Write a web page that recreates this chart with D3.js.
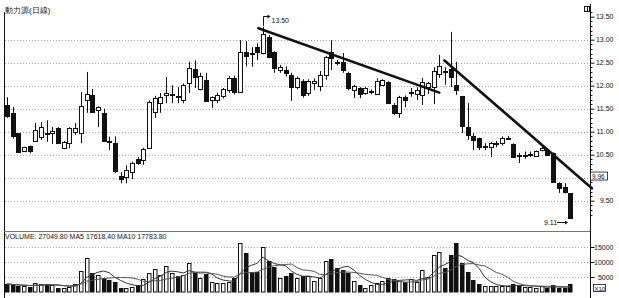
<!DOCTYPE html>
<html><head><meta charset="utf-8">
<script src="https://cdn.jsdelivr.net/npm/d3@7"></script>
<style>body{margin:0;background:#fff}svg{display:block}text{font-family:"Liberation Sans",Arial,sans-serif;fill:#111}</style>
</head><body><svg id="c" width="619" height="298"></svg>
<script>
const title = "動力源(日線)";
const volumeLabel = "VOLUME: 27049.80 MA5 17618.40 MA10 17783.80";
const opens = [11.58,11.41,10.97,10.58,10.69,10.80,10.88,10.98,10.97,11.08,10.65,10.75,11.00,10.97,11.69,11.80,11.47,11.41,10.80,10.75,10.04,10.01,10.12,10.40,10.39,10.65,11.43,11.62,11.80,11.82,11.78,11.69,12.05,12.37,11.93,12.12,11.69,11.69,11.77,11.91,12.16,11.86,12.74,12.71,12.84,12.71,13.06,12.73,12.34,12.34,12.23,11.97,12.10,11.84,12.06,11.99,12.23,12.73,12.52,12.52,12.28,11.91,11.95,11.84,11.88,11.82,12.02,12.08,11.58,11.41,11.76,11.86,11.82,11.80,11.98,11.97,12.26,12.31,12.37,12.02,11.78,11.10,10.90,10.86,10.68,10.67,10.75,10.75,10.86,10.73,10.50,10.49,10.51,10.48,10.60,10.60,10.53,9.88,9.80,9.66];
const highs = [11.75,11.54,10.97,10.67,10.70,11.19,11.21,11.25,11.10,11.10,10.80,11.10,11.19,11.86,12.30,11.93,11.55,11.50,10.89,10.90,10.12,10.27,10.35,10.45,10.65,11.68,11.78,11.84,12.19,12.01,11.97,12.05,12.52,12.55,12.28,12.28,11.77,11.85,11.95,12.21,12.22,12.99,12.97,12.84,12.92,13.28,13.10,12.75,12.45,12.42,12.28,12.20,12.14,12.14,12.16,12.32,12.65,12.99,12.56,12.71,12.30,12.02,11.97,11.97,11.92,12.16,12.14,12.10,11.62,11.78,11.79,11.95,11.97,12.17,12.08,12.40,12.67,12.40,13.17,12.52,11.78,11.62,10.97,10.87,10.75,10.78,10.80,10.90,10.91,10.75,10.54,10.57,10.57,10.59,10.69,10.64,10.55,9.90,9.88,9.66];
const lows = [11.30,10.85,10.54,10.58,10.53,10.80,10.82,10.78,10.73,10.74,10.62,10.64,10.93,10.75,11.41,11.41,11.10,10.78,10.60,10.10,9.88,9.88,9.97,10.28,10.28,10.63,11.30,11.41,11.62,11.62,11.62,11.62,11.84,11.95,11.90,11.65,11.52,11.62,11.72,11.84,11.81,11.84,12.42,12.41,12.56,12.68,12.60,12.28,12.28,12.20,11.67,11.92,11.74,11.78,11.91,11.88,12.13,12.34,12.44,12.28,11.90,11.73,11.73,11.80,11.81,11.80,12.00,11.60,11.36,11.30,11.53,11.76,11.69,11.58,11.82,11.60,12.17,12.02,11.97,11.80,10.97,10.82,10.60,10.60,10.60,10.45,10.66,10.70,10.82,10.43,10.32,10.41,10.45,10.46,10.57,10.48,9.89,9.67,9.66,9.11];
const closes = [11.34,10.91,10.56,10.67,10.58,11.04,11.10,10.97,11.02,10.75,10.78,11.08,11.07,11.56,11.82,11.43,11.53,10.80,10.79,10.14,9.97,10.17,10.31,10.31,10.62,11.64,11.73,11.75,11.85,11.83,11.76,12.01,12.38,12.18,12.21,11.67,11.75,11.80,11.92,12.16,11.86,12.73,12.64,12.70,12.73,13.12,12.62,12.38,12.40,12.28,11.97,12.17,11.80,12.10,12.10,12.23,12.62,12.60,12.51,12.34,11.95,12.00,11.82,11.95,11.89,12.10,12.12,11.63,11.40,11.76,11.70,11.87,11.90,12.08,12.06,12.32,12.43,12.30,12.20,11.91,11.12,10.93,10.82,10.66,10.69,10.75,10.76,10.87,10.87,10.45,10.49,10.50,10.52,10.57,10.64,10.50,9.91,9.78,9.68,9.12];
const volumes = [2700,2400,2000,2000,1700,2900,2600,2600,2400,1400,1400,1800,2600,7000,11300,6300,5700,4700,4100,3400,1400,1400,1700,2400,4300,6300,7700,5700,8800,6300,5200,5700,9600,6300,4700,6000,3400,2900,2900,3400,4800,16500,13000,6800,6800,15100,10300,8400,4800,5200,6300,4700,5200,5200,3600,4700,10300,10900,8000,7400,6300,3600,2400,1300,2400,2900,3600,4800,4400,3800,3400,4300,3400,7500,5000,12300,13200,7900,12300,16200,9600,6600,4000,2600,2000,2000,2000,2000,2000,2600,2300,1700,1600,1500,1875,1200,2400,1300,1204,2705];
const priceTicks = [13.5,13.0,12.5,12.0,11.5,11.0,10.5,10.0,9.5];
const priceLabels = ["13.50","13.00","12.50","12.00","11.50","11.00","10.50","","9.50"];
const priceGrid = [13.0,12.5,12.0,11.5,11.0,10.5,10.0,9.5];
const volumeTicks = [15000,10000,5000];
const trend1 = [{i:44.2,p:13.25},{i:76.0,p:11.85}];
const trend2 = [{i:76.9,p:12.55},{i:102.8,p:9.77}];
const highMark = {i:45, p:13.28, label:"13.50"};
const lowMark = {i:99, p:9.11, label:"9.11"};
const lastMark = {p:9.96, label:"9.96"};

const svg = d3.select("#c");
const n = closes.length;
const x = d3.scaleLinear().domain([0, n-1]).range([6.85, 570.2]);
const y = d3.scaleLinear().domain([9.5, 13.5]).range([200.7, 16.7]);
const yv = d3.scaleLinear().domain([0, 15000]).range([292, 247]);
const axisX = 590.5, leftX = 4.5;
const ink = "#111";

// gridlines
svg.append("g").selectAll("line").data(priceGrid).join("line")
  .attr("x1", 5).attr("x2", 589).attr("y1", d=>Math.round(y(d))+0.5).attr("y2", d=>Math.round(y(d))+0.5)
  .attr("stroke","#a0a0a0").attr("stroke-dasharray","1,2").attr("stroke-width",1);
svg.append("g").selectAll("line").data(volumeTicks).join("line")
  .attr("x1", 5).attr("x2", 589).attr("y1", d=>Math.round(yv(d))+0.5).attr("y2", d=>Math.round(yv(d))+0.5)
  .attr("stroke","#a0a0a0").attr("stroke-dasharray","1,2").attr("stroke-width",1);

// frame lines
svg.append("line").attr("x1",leftX).attr("x2",leftX).attr("y1",12).attr("y2",298).attr("stroke",ink);
svg.append("line").attr("x1",axisX).attr("x2",axisX).attr("y1",4).attr("y2",298).attr("stroke",ink);
svg.append("line").attr("x1",4).attr("x2",590).attr("y1",231.5).attr("y2",231.5).attr("stroke","#777");

// right price axis
const pAxis = d3.axisRight(y).tickValues(priceTicks).tickSize(4).tickFormat((d,i)=>priceLabels[i]);
const gp = svg.append("g").attr("transform",`translate(${axisX},0)`).call(pAxis);
gp.select(".domain").remove();
gp.selectAll("text").attr("x", 23).attr("text-anchor","end").attr("font-size",7).attr("fill",ink).attr("font-family","Liberation Sans, Arial, sans-serif");
gp.selectAll("line").attr("stroke",ink);
const minor = d3.range(9.2, 13.61, 0.1).filter(v => Math.abs(v*2 - Math.round(v*2)) > 0.01);
svg.append("g").selectAll("line").data(minor).join("line")
  .attr("x1",axisX).attr("x2",axisX+2).attr("y1",d=>Math.round(y(d))+0.5).attr("y2",d=>Math.round(y(d))+0.5).attr("stroke",ink);

// volume axis
const vAxis = d3.axisRight(yv).tickValues(volumeTicks).tickSize(4).tickFormat(d3.format("d"));
const gv = svg.append("g").attr("transform",`translate(${axisX},0)`).call(vAxis);
gv.select(".domain").remove();
gv.selectAll("text").attr("x", 23).attr("text-anchor","end").attr("font-size",7).attr("fill",ink).attr("font-family","Liberation Sans, Arial, sans-serif");
gv.selectAll("line").attr("stroke",ink);

// volume bars
const vg = svg.append("g");
volumes.forEach((v,i) => {
  const cx = Math.round(x(i));
  const up = closes[i] >= opens[i];
  const top = Math.round(yv(v)) + 0.5;
  vg.append("rect").attr("x", cx-1.5).attr("y", top).attr("width", 3.5).attr("height", yv(0)-top)
    .attr("fill", up ? "#fff" : ink).attr("stroke", ink).attr("stroke-width", 1);
});
// MA lines
function ma(k){ return volumes.map((v,i)=>{ const s = volumes.slice(Math.max(0,i-k+1), i+1); return d3.mean(s); }); }
const vline = d3.line().x((d,i)=>x(i)).y(d=>yv(d));
svg.append("path").attr("d", vline(ma(5))).attr("fill","none").attr("stroke","#333").attr("stroke-width",1);
svg.append("path").attr("d", vline(ma(10))).attr("fill","none").attr("stroke","#555").attr("stroke-width",1);

// candles
const cg = svg.append("g");
closes.forEach((c,i) => {
  const cx = Math.round(x(i));
  const o = opens[i];
  const up = c >= o;
  cg.append("line").attr("x1",cx+0.5).attr("x2",cx+0.5).attr("y1",y(highs[i])).attr("y2",y(lows[i])).attr("stroke",ink).attr("stroke-width",1);
  const t = Math.round(y(Math.max(o,c))) + 0.5;
  const b = Math.round(y(Math.min(o,c))) + 0.5;
  const h = Math.max(1, b - t);
  cg.append("rect").attr("x", cx-1.5).attr("y", t).attr("width", 4).attr("height", h)
    .attr("fill", up ? "#fff" : ink).attr("stroke", ink).attr("stroke-width", 1);
});

// trend lines
const tl = d3.line().x(d=>x(d.i)).y(d=>y(d.p));
[trend1, trend2].forEach(t => svg.append("path").attr("d", tl(t)).attr("fill","none").attr("stroke",ink).attr("stroke-width",2.6).attr("stroke-linecap","round"));

// high annotation
const hx = Math.round(x(highMark.i)) + 0.5;
svg.append("path").attr("d", `M${hx},${y(highMark.p)-1} V16.5 H${hx+6}`).attr("fill","none").attr("stroke",ink).attr("stroke-width",1);
svg.append("path").attr("d", `M${hx+7},16.5 l-3,-2 v4 z`).attr("fill",ink);
svg.append("text").attr("x", hx+8).attr("y", 23).attr("font-size",7).text(highMark.label);

// low annotation
const lx = Math.round(x(lowMark.i));
const ly = Math.round(y(lowMark.p)) + 3.5;
svg.append("text").attr("x", lx-26).attr("y", ly+2.5).attr("font-size",7).text(lowMark.label);
svg.append("line").attr("x1", lx-13).attr("x2", lx-3).attr("y1", ly).attr("y2", ly).attr("stroke",ink);
svg.append("path").attr("d", `M${lx-2},${ly} l-3,-2 v4 z`).attr("fill",ink);

// last value box
const by = y(lastMark.p) - 3;
svg.append("rect").attr("x", 590.5).attr("y", by-4.5).attr("width", 17).attr("height", 8).attr("fill","#fff").attr("stroke",ink).attr("stroke-width",0.8);
svg.append("text").attr("x", 592).attr("y", by+2.5).attr("font-size",6.5).text(lastMark.label);

// X10 box
svg.append("rect").attr("x", 593.5).attr("y", 284.5).attr("width", 12).attr("height", 7).attr("fill","#fff").attr("stroke",ink).attr("stroke-width",0.8);
svg.append("text").attr("x", 594.5).attr("y", 290.5).attr("font-size",6).text("X10");

// top-right icon
svg.append("rect").attr("x", 584.5).attr("y", 6.5).attr("width", 5).attr("height", 5).attr("fill","none").attr("stroke",ink);
svg.append("line").attr("x1", 587.5).attr("x2", 587.5).attr("y1", 6).attr("y2", 12).attr("stroke",ink);

// titles
svg.append("text").attr("x", 5).attr("y", 13).attr("font-size", 8).attr("font-family", "'Noto Sans CJK TC','Noto Sans CJK SC',sans-serif").text(title);
svg.append("text").attr("x", 5).attr("y", 239).attr("font-size", 7).text(volumeLabel);
</script></body></html>
